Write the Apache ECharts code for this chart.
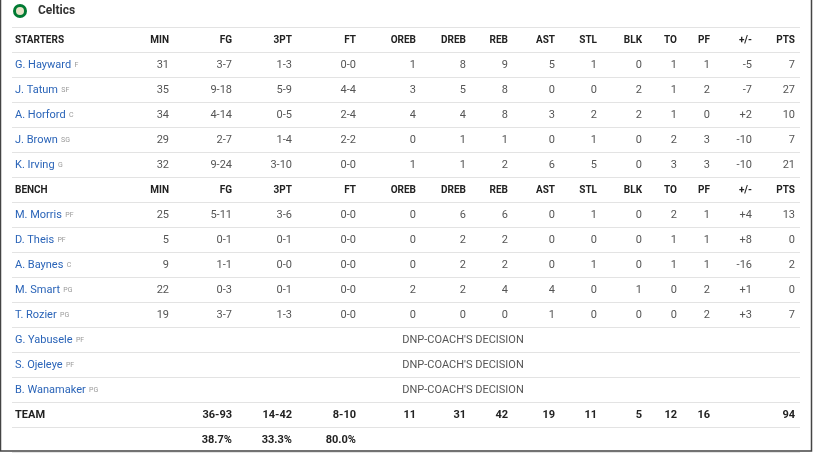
<!DOCTYPE html>
<html>
<head>
<meta charset="utf-8">
<script src="https://cdn.jsdelivr.net/npm/echarts@6/dist/echarts.min.js"></script>
<style>
  html, body { margin: 0; padding: 0; background: #fff; }
  #main { width: 813px; height: 453px; }
</style>
</head>
<body>
<div id="main"></div>
<script>
// box score data
const teamName = 'Celtics';
const statCols = ['MIN', 'FG', '3PT', 'FT', 'OREB', 'DREB', 'REB', 'AST', 'STL', 'BLK', 'TO', 'PF', '+/-', 'PTS'];
const starters = [
  ['G. Hayward', 'F', '31', '3-7', '1-3', '0-0', '1', '8', '9', '5', '1', '0', '1', '1', '-5', '7'],
  ['J. Tatum', 'SF', '35', '9-18', '5-9', '4-4', '3', '5', '8', '0', '0', '2', '1', '2', '-7', '27'],
  ['A. Horford', 'C', '34', '4-14', '0-5', '2-4', '4', '4', '8', '3', '2', '2', '1', '0', '+2', '10'],
  ['J. Brown', 'SG', '29', '2-7', '1-4', '2-2', '0', '1', '1', '0', '1', '0', '2', '3', '-10', '7'],
  ['K. Irving', 'G', '32', '9-24', '3-10', '0-0', '1', '1', '2', '6', '5', '0', '3', '3', '-10', '21']
];
const bench = [
  ['M. Morris', 'PF', '25', '5-11', '3-6', '0-0', '0', '6', '6', '0', '1', '0', '2', '1', '+4', '13'],
  ['D. Theis', 'PF', '5', '0-1', '0-1', '0-0', '0', '2', '2', '0', '0', '0', '1', '1', '+8', '0'],
  ['A. Baynes', 'C', '9', '1-1', '0-0', '0-0', '0', '2', '2', '0', '1', '0', '1', '1', '-16', '2'],
  ['M. Smart', 'PG', '22', '0-3', '0-1', '0-0', '2', '2', '4', '4', '0', '1', '0', '2', '+1', '0'],
  ['T. Rozier', 'PG', '19', '3-7', '1-3', '0-0', '0', '0', '0', '1', '0', '0', '0', '2', '+3', '7']
];
const dnp = [['G. Yabusele', 'PF'], ['S. Ojeleye', 'PF'], ['B. Wanamaker', 'PG']];
const dnpText = "DNP-COACH'S DECISION";
const teamTotals = ['', '36-93', '14-42', '8-10', '11', '31', '42', '19', '11', '5', '12', '16', '', '94'];
const teamPct = ['', '38.7%', '33.3%', '80.0%'];

// layout
const colRight = [169, 232, 292, 356, 416, 466, 508, 555, 597, 642, 677, 710, 752, 795];
const left = 12, right = 800, rowH = 25, firstY = 40;
const font = 'Roboto, "Noto Sans", sans-serif';

const els = [];
function txt(x, y, s, o) {
  els.push({ type: 'text', x: x, y: y, silent: true,
    style: Object.assign({ text: s, font: '11px ' + font, fill: '#555', align: 'left', verticalAlign: 'middle' }, o || {}) });
}
function hline(y) {
  els.push({ type: 'line', silent: true, shape: { x1: left, y1: y, x2: right, y2: y }, style: { stroke: '#e3e3e3', lineWidth: 1 } });
}
function nameCell(y, name, pos) {
  els.push({ type: 'text', silent: true, x: left + 3, y: y,
    style: { text: '{n|' + name + '} {p|' + pos + '}', verticalAlign: 'middle',
      rich: { n: { font: '11px ' + font, fill: '#2a64b8' }, p: { font: '7px ' + font, fill: '#999' } } } });
}

// frame and title
els.push({ type: 'rect', shape: { x: 0.5, y: -2, width: 811, height: 453 }, style: { fill: 'none', stroke: '#444', lineWidth: 1.5 } });
els.push({ type: 'circle', shape: { cx: 20, cy: 11, r: 7 }, style: { fill: '#007a33' } });
els.push({ type: 'circle', shape: { cx: 20, cy: 11, r: 4 }, style: { fill: '#e8e3c8' } });
txt(38, 11, teamName, { font: 'bold 12px ' + font, fill: '#333' });

let row = 0;
function y() { return firstY + row * rowH; }
function headerRow(label) {
  hline(y() - rowH / 2);
  txt(left + 3, y(), label, { font: 'bold 10px ' + font, fill: '#222' });
  statCols.forEach((c, i) => txt(colRight[i], y(), c, { font: 'bold 10px ' + font, fill: '#222', align: 'right' }));
  row++;
}
function playerRow(p) {
  hline(y() - rowH / 2);
  nameCell(y(), p[0], p[1]);
  p.slice(2).forEach((v, i) => txt(colRight[i], y(), v, { align: 'right' }));
  row++;
}

headerRow('STARTERS');
starters.forEach(playerRow);
headerRow('BENCH');
bench.forEach(playerRow);
dnp.forEach(d => {
  hline(y() - rowH / 2);
  nameCell(y(), d[0], d[1]);
  txt(463, y(), dnpText, { align: 'center' });
  row++;
});
hline(y() - rowH / 2);
txt(left + 3, y(), 'TEAM', { font: 'bold 11px ' + font, fill: '#222' });
teamTotals.forEach((v, i) => v && txt(colRight[i], y(), v, { font: 'bold 11px ' + font, fill: '#222', align: 'right' }));
row++;
hline(y() - rowH / 2);
teamPct.forEach((v, i) => v && txt(colRight[i], y(), v, { font: 'bold 11px ' + font, fill: '#222', align: 'right' }));
hline(y() + rowH / 2);

const chart = echarts.init(document.getElementById('main'));
chart.setOption({ animation: false, graphic: { elements: els } });
</script>
</body>
</html>
